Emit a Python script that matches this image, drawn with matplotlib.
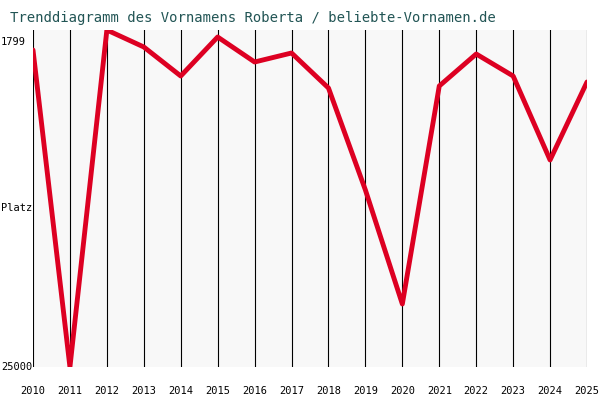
import matplotlib
matplotlib.use("Agg")
import matplotlib.pyplot as plt

years = list(range(2010, 2026))
ranks = [3176, 25000, 1799, 2969, 4966, 2281, 4002, 3382, 5792, 12814, 20663, 5654, 3451, 4966, 10749, 5379]
title = "Trenddiagramm des Vornamens Roberta / beliebte-Vornamen.de"

fig = plt.figure(figsize=(6, 4), dpi=100, facecolor="white")
ax = fig.add_axes([33/600, 1-367/400, 554/600, 337/400])
ax.set_facecolor("#f8f8f8")
for y in years:
    ax.axvline(y, color="black", lw=0.8, zorder=1)
ax.plot(years, ranks, color="#dd0022", lw=3.5, zorder=3, solid_capstyle="round")
ax.set_xlim(2010, 2025)
ax.set_ylim(25000, 1799)
for s in ax.spines.values():
    s.set_visible(False)
ax.set_xticks(years)
ax.set_xticklabels([str(y) for y in years], fontsize=7.5, family="DejaVu Sans Mono")
ax.tick_params(length=0, pad=14)
ax.set_yticks([])
kw = dict(fontsize=7.5, family="DejaVu Sans Mono", ha="left", va="center")
fig.text(1/600, 1-42/400, "1799", **kw)
fig.text(1/600, 1-208/400, "Platz", **kw)
fig.text(1/600, 1-367/400, "25000", **kw)
fig.text(10/600, 1-18/400, title, fontsize=10, family="DejaVu Sans Mono", color="#225555", va="center")
fig.savefig("out.png", dpi=100, facecolor="white")
